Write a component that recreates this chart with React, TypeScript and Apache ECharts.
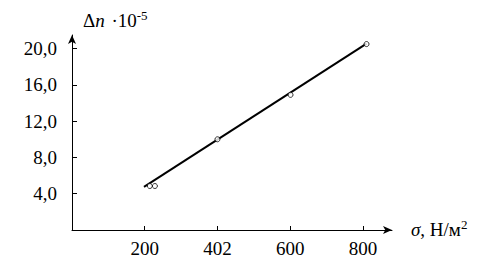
import React, { useEffect, useRef } from "react";
import * as echarts from "echarts";

const xTickValues = [200, 400, 600, 800];
const xTickLabels = ["200", "402", "600", "800"];
const yTickValues = [4, 8, 12, 16, 20];
const measured: [number, number][] = [
  [214, 4.85],
  [228, 4.85],
  [400, 10.0],
  [601, 14.9],
  [810, 20.5],
];
const fitLine: [number, number][] = [
  [198, 4.75],
  [810, 20.55],
];

const FONT = "'Liberation Serif', 'Times New Roman', serif";

export default function App() {
  const ref = useRef<HTMLDivElement>(null);
  useEffect(() => {
    document.body.style.margin = "0";
    const chart = echarts.init(ref.current!, null, { renderer: "svg" });
    chart.setOption({
      animation: false,
      backgroundColor: "#ffffff",
      grid: { left: 72, top: 35, right: 102, bottom: 36, containLabel: false },
      xAxis: {
        type: "value",
        min: 0,
        max: 880,
        splitLine: { show: false },
        axisLine: {
          show: true,
          lineStyle: { color: "#000", width: 1 },
          symbol: ["none", "arrow"],
          symbolSize: [6, 9],
        },
        axisTick: {
          show: true,
          inside: true,
          length: 4,
          lineStyle: { color: "#000" },
          customValues: xTickValues,
        },
        axisLabel: {
          customValues: xTickValues,
          color: "#000",
          fontFamily: FONT,
          fontSize: 19,
          margin: 9,
          formatter: (v: number) => {
            const i = xTickValues.indexOf(v);
            return i >= 0 ? xTickLabels[i] : "";
          },
        },
      },
      yAxis: {
        type: "value",
        min: 0,
        max: 21.5,
        splitLine: { show: false },
        axisLine: {
          show: true,
          lineStyle: { color: "#000", width: 1 },
          symbol: ["none", "arrow"],
          symbolSize: [6, 9],
        },
        axisTick: {
          show: true,
          inside: true,
          length: 5,
          lineStyle: { color: "#000" },
          customValues: yTickValues,
        },
        axisLabel: {
          customValues: yTickValues,
          color: "#000",
          fontFamily: FONT,
          fontSize: 19,
          margin: 15,
          formatter: (v: number) => v.toFixed(1).replace(".", ","),
        },
      },
      graphic: [
        {
          type: "text",
          left: 83,
          top: 9,
          style: {
            text: "{a|Δ}{i|n}{a| ·10}{s|-5}",
            rich: {
              a: { fontFamily: FONT, fontSize: 19, fill: "#000", verticalAlign: "bottom", lineHeight: 21 },
              i: { fontFamily: FONT, fontSize: 19, fontStyle: "italic", fill: "#000", verticalAlign: "bottom", lineHeight: 21, padding: [0, 2, 0, 0] },
              s: { fontFamily: FONT, fontSize: 13, fill: "#000", verticalAlign: "top", lineHeight: 21 },
            },
          },
        },
        {
          type: "text",
          left: 411,
          top: 218,
          style: {
            text: "{i|σ}{a|, Н/м}{s|2}",
            rich: {
              a: { fontFamily: FONT, fontSize: 19, fill: "#000", verticalAlign: "bottom", lineHeight: 21 },
              i: { fontFamily: FONT, fontSize: 19, fontStyle: "italic", fill: "#000", verticalAlign: "bottom", lineHeight: 21 },
              s: { fontFamily: FONT, fontSize: 13, fill: "#000", verticalAlign: "top", lineHeight: 21 },
            },
          },
        },
      ],
      series: [
        {
          type: "line",
          data: fitLine,
          symbol: "none",
          lineStyle: { color: "#000", width: 2 },
          silent: true,
        },
        {
          type: "scatter",
          data: measured,
          symbol: "circle",
          symbolSize: 5,
          itemStyle: { color: "#fff", borderColor: "#000", borderWidth: 1 },
          z: 5,
        },
      ],
    });
    return () => chart.dispose();
  }, []);
  return <div ref={ref} style={{ width: 494, height: 266 }} />;
}
